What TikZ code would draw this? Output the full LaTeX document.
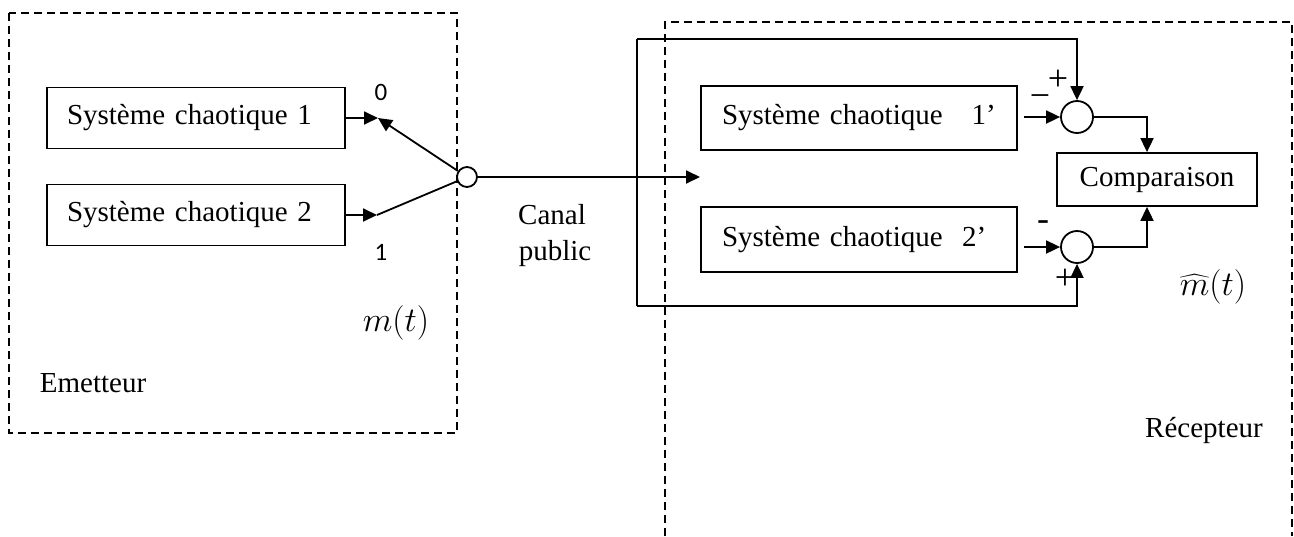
\documentclass[tikz,border=0pt]{standalone}
\usepackage{fontspec}
\setmainfont{Liberation Serif}
\newfontfamily\calfont{Carlito}
\usetikzlibrary{arrows.meta,calc}
\begin{document}
\begin{tikzpicture}[x=0.5pt,y=-0.5pt,
  every node/.style={font=\fontsize{14.5}{17}\selectfont},
  sysbox/.style={draw,line width=0.9pt,rectangle,minimum height=30.5pt,inner xsep=10pt,anchor=center},
  zone/.style={line width=0.8pt,dash pattern=on 4pt off 2.5pt},
  wire/.style={line width=0.9pt},
  arr/.style={wire,-{Triangle[length=7pt,width=6.5pt]}},
  sum/.style={draw,line width=0.9pt,circle,inner sep=0pt,minimum size=16pt},
  sign/.style={font=\fontsize{18}{20}\selectfont,inner sep=0pt},
  digit/.style={font=\calfont\fontsize{12.5}{14}\selectfont}]
\useasboundingbox (0,0) rectangle (1294,536);
% zones
\draw[zone] (9,13) rectangle (457,433);
\draw[zone] (665,536) -- (665,22) -- (1292,22) -- (1292,536);
% emitter
\node[sysbox,minimum width=149pt,text width=129pt,align=left] (s1) at (196,118) {Système chaotique 1};
\node[sysbox,minimum width=149pt,text width=129pt,align=left] (s2) at (196,215) {Système chaotique 2};
\node[draw,line width=0.9pt,circle,inner sep=0pt,minimum size=10pt] (sw) at (467,177) {};
\coordinate (p0) at (378,118);
\coordinate (p1) at (377,215);
\draw[arr] (s1.east) -- (p0);
\draw[arr] (sw) -- (p0);
\draw[arr] (s2.east) -- (p1);
\draw[wire] (sw) -- (p1);
\node[digit] (l0) at (381,92) {0};
\node[digit] (l1) at (381,252) {1};
\node (mt) at (396,323) {\fontsize{17.5}{20}\selectfont$m(t)$};
\node (em) at (93,383) {Emetteur};
% channel
\coordinate (rin) at (700,177);
\draw[arr] (sw) -- (rin);
\node (canal) at (552,215) {Canal};
\node (public) at (555,254) {public};
% receiver
\node[sysbox,minimum width=158pt,minimum height=32pt,text width=137pt,align=left] (b1) at (859,118) {Système chaotique\ \ \ 1’};
\node[sysbox,minimum width=158pt,minimum height=32.5pt,text width=137pt,align=left] (b2) at (859,239.5) {Système chaotique\ \ 2’};
\node[sum] (c1) at (1077,117) {};
\node[sum] (c2) at (1077,247) {};
\node[draw,line width=0.9pt,minimum width=100pt,minimum height=26.5pt] (comp) at (1157,179.5) {Comparaison};
\draw[arr] ($(b1.east|-c1)+(3pt,0)$) -- (c1);
\draw[arr] ($(b2.east|-c2)+(3pt,0)$) -- (c2);
\draw[arr] (c1.east) -| ([xshift=-5pt]comp.north);
\draw[arr] (c2.east) -| ([xshift=-5pt]comp.south);
\coordinate (fbtop) at (637,39);
\coordinate (fbbot) at (637,306);
\draw[wire] (fbtop) -- (fbbot);
\draw[arr] (fbtop) -| (c1.north);
\draw[arr] (fbbot) -| (c2.south);
\node[sign] (pl1) at (1058,80) {+};
\node[sign] (mi1) at (1040,101) {−};
\node[sign] (mi2) at (1043,226) {-};
\node[sign] (pl2) at (1065,279) {+};
\node (mh) at (1213,287) {\fontsize{16.5}{19}\selectfont$\widehat{m}(t)$};
\node (rec) at (1204,430) {Récepteur};
\end{tikzpicture}
\end{document}
